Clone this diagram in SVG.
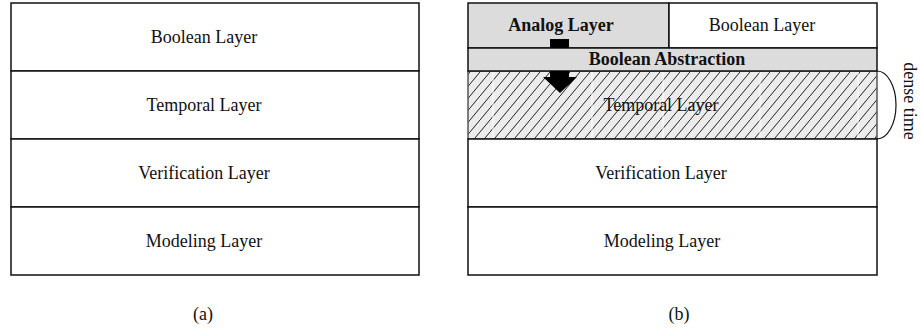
<svg xmlns="http://www.w3.org/2000/svg" width="922" height="329" viewBox="0 0 922 329">
<defs>
<style>
text{font-family:"Liberation Serif","Times New Roman",serif;font-size:18px;fill:#111;text-anchor:middle}
.b{font-weight:bold}
.box{fill:#fff;stroke:#111;stroke-width:1.5}
.gray{fill:#dcdcdc;stroke:#111;stroke-width:1.5}
.wl{stroke:#fff;stroke-width:1}
</style>
<pattern id="hatch" width="10" height="12" patternUnits="userSpaceOnUse">
<rect width="10" height="12" fill="#ececec"/>
<path d="M-1,13.2 L11,-1.2" stroke="#222" stroke-width="1"/>
</pattern>
</defs>
<g id="panel-a">
<g id="a-boolean"><rect class="box" x="11" y="3" width="408" height="68"/><text x="204" y="43">Boolean Layer</text></g>
<g id="a-temporal"><rect class="box" x="11" y="71" width="408" height="68"/><text x="204" y="111">Temporal Layer</text></g>
<g id="a-verification"><rect class="box" x="11" y="139" width="408" height="68"/><text x="204" y="179">Verification Layer</text></g>
<g id="a-modeling"><rect class="box" x="11" y="207" width="408" height="68"/><text x="204" y="247">Modeling Layer</text></g>
<text x="203" y="320">(a)</text>
</g>
<g id="panel-b">
<g id="b-analog"><rect class="gray" x="468" y="3" width="201" height="45"/><text class="b" x="561" y="31">Analog Layer</text></g>
<g id="b-boolean"><rect class="box" x="669" y="3" width="208" height="45"/><text x="762" y="31">Boolean Layer</text></g>
<g id="b-temporal">
<rect x="468" y="71" width="409" height="68" fill="url(#hatch)" stroke="#555" stroke-width="1.5"/>
<line class="wl" x1="493" y1="72" x2="493" y2="138"/>
<line class="wl" x1="592" y1="72" x2="592" y2="138"/>
<line class="wl" x1="663" y1="72" x2="663" y2="138"/>
<line class="wl" x1="760" y1="72" x2="760" y2="138"/>
<line class="wl" x1="858" y1="72" x2="858" y2="138"/>
<text x="661" y="111">Temporal Layer</text>
</g>
<g id="b-abstraction"><rect class="gray" x="468" y="48" width="409" height="23"/><text class="b" x="667" y="65">Boolean Abstraction</text></g>
<g id="b-verification"><rect class="box" x="468" y="139" width="409" height="68"/><text x="661" y="179">Verification Layer</text></g>
<g id="b-modeling"><rect class="box" x="468" y="207" width="409" height="68"/><text x="662" y="247">Modeling Layer</text></g>
<text x="679" y="320">(b)</text>
</g>
<g id="connectors">
<rect x="550" y="39" width="19" height="9" fill="#000"/>
<path d="M550,71 H569 V77 H577 L560,93 L543,77 H550 Z" fill="#000"/>
<path d="M877,71 A19,34 0 0 1 877,139" fill="none" stroke="#111" stroke-width="1.2"/>
<text transform="translate(904,101) rotate(90)" x="0" y="0">dense time</text>
</g>
</svg>
